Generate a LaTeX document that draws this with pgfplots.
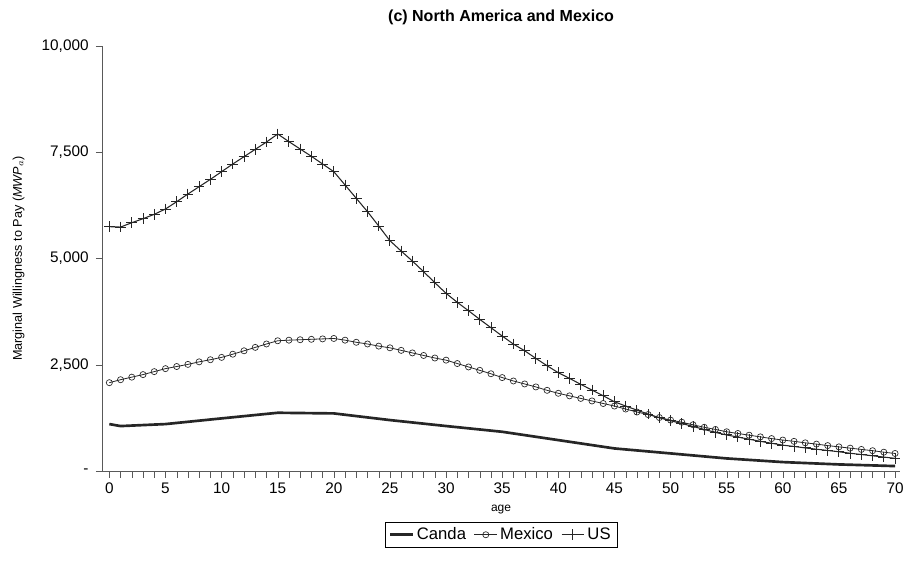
\documentclass[border=0pt]{standalone}
\usepackage{pgfplots}
\pgfplotsset{compat=1.18}
\usepackage{fontspec}
\setmainfont{Liberation Sans}
\begin{document}
\begin{tikzpicture}
\begin{axis}[
  scale only axis, width=598pt, height=319pt,
  xmin=-0.6, xmax=70.4, ymin=0, ymax=10000,
  scaled y ticks=false,
  axis x line*=bottom, axis y line*=left,
  axis line style={gray!70!black},
  xtick={0,5,...,70}, minor xtick={0,1,...,70},
  ytick={0,2500,5000,7500,10000},
  yticklabels={-,{2,500},{5,000},{7,500},{10,000}},
  tick align=outside, tick style={gray!70!black},
  major tick length=5pt, minor tick length=5pt,
  ticklabel style={font=\fontsize{11.5}{13}\selectfont},
  yticklabel style={xshift=-2pt},
  /pgf/number format/assume math mode=true,
  xlabel={age}, xlabel style={font=\fontsize{9}{11}\selectfont, yshift=-2pt},
  ylabel={Marginal Willingness to Pay ($\mathit{MWP}_a$)},
  ylabel style={font=\fontsize{9.5}{11}\selectfont, yshift=6pt},
  title={\textbf{(c) North  America and Mexico}},
  title style={font=\fontsize{12}{14}\selectfont, yshift=6pt},
  legend style={at={(0.5,-0.12)}, anchor=north, legend columns=-1, draw=black, font=\fontsize{12.5}{14}\selectfont, /tikz/every even column/.append style={column sep=4pt}},
  legend cell align=left,
]
\addplot[black!85, line width=2pt] coordinates {(0,1106)(1,1059)(5,1106)(10,1240)(15,1372)(20,1357)(25,1200)(30,1060)(35,925)(40,729)(45,533)(50,416)(55,298)(60,212)(65,157)(70,118)};
\addlegendentry{Canda}
\addplot[black!85, mark=o, mark size=2.3pt, mark options={line width=0.5pt}, line width=0.6pt] coordinates {
(0,2080)(1,2150)(2,2210)(3,2270)(4,2340)(5,2410)(6,2460)(7,2510)(8,2570)(9,2620)(10,2675)(11,2750)(12,2830)(13,2910)(14,2990)(15,3066)(16,3080)(17,3090)(18,3100)(19,3110)(20,3120)(21,3080)(22,3030)(23,2990)(24,2940)(25,2900)(26,2840)(27,2780)(28,2720)(29,2660)(30,2610)(31,2530)(32,2450)(33,2370)(34,2290)(35,2200)(36,2120)(37,2050)(38,1980)(39,1900)(40,1830)(41,1770)(42,1710)(43,1650)(44,1590)(45,1530)(46,1460)(47,1390)(48,1330)(49,1260)(50,1200)(51,1150)(52,1090)(53,1030)(54,980)(55,925)(56,885)(57,845)(58,805)(59,765)(60,730)(61,700)(62,665)(63,635)(64,600)(65,570)(66,540)(67,510)(68,480)(69,445)(70,415)};
\addlegendentry{Mexico}
\addplot[black!85, mark=+, mark size=4pt, mark options={line width=0.7pt}, line width=0.8pt] coordinates {
(0,5750)(1,5740)(2,5843)(3,5937)(4,6040)(5,6165)(6,6337)(7,6518)(8,6690)(9,6862)(10,7043)(11,7224)(12,7396)(13,7569)(14,7741)(15,7930)(16,7749)(17,7577)(18,7405)(19,7224)(20,7043)(21,6730)(22,6416)(23,6102)(24,5765)(25,5419)(26,5176)(27,4941)(28,4690)(29,4431)(30,4181)(31,3969)(32,3772)(33,3569)(34,3373)(35,3177)(36,2988)(37,2831)(38,2651)(39,2478)(40,2314)(41,2181)(42,2040)(43,1906)(44,1772)(45,1631)(46,1530)(47,1435)(48,1341)(49,1255)(50,1184)(51,1120)(52,1050)(53,980)(54,910)(55,850)(56,800)(57,750)(58,700)(59,655)(60,610)(61,580)(62,545)(63,515)(64,485)(65,455)(66,420)(67,390)(68,360)(69,330)(70,300)};
\addlegendentry{US}
\end{axis}
\useasboundingbox (-77pt,-81pt) rectangle (604pt,353.5pt);
\end{tikzpicture}
\end{document}
